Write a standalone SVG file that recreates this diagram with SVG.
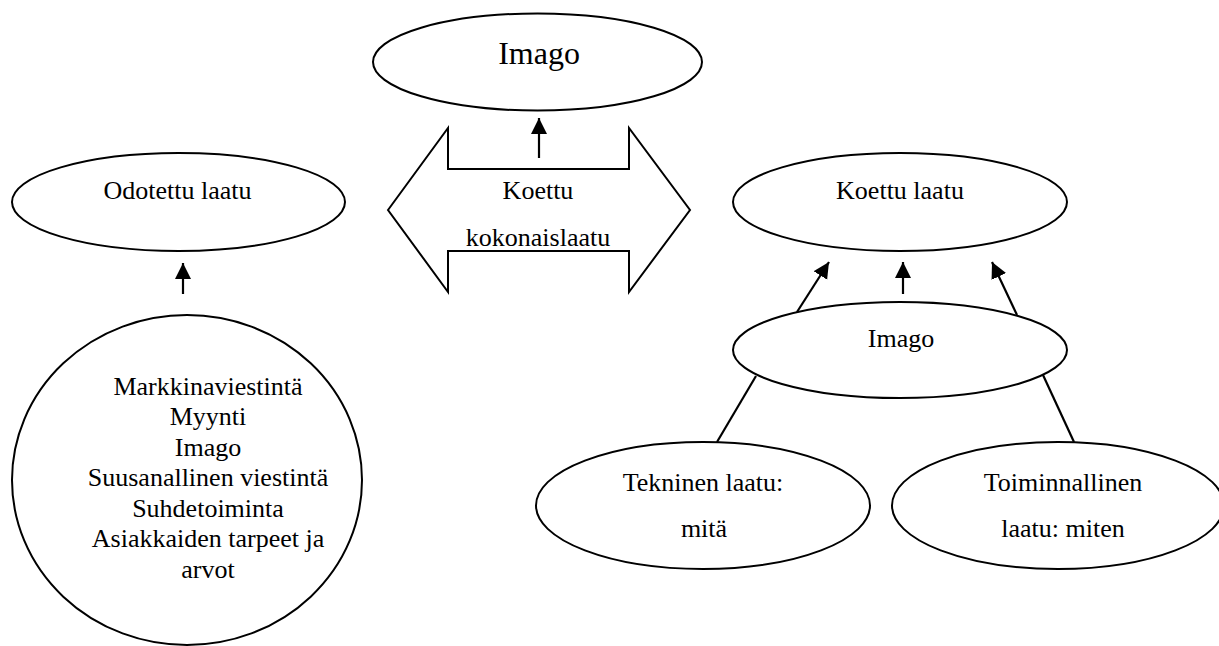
<svg xmlns="http://www.w3.org/2000/svg" width="1219" height="646" viewBox="0 0 1219 646">
<style>
.shape{fill:#fff;stroke:#000;stroke-width:2}
.t{font-family:"Liberation Serif","Times New Roman",serif;font-size:26px;fill:#000;text-anchor:middle}
.big{font-size:32px}
.con{stroke:#000;stroke-width:2.2;fill:none}
</style>
<defs>
<marker id="ah" markerUnits="userSpaceOnUse" markerWidth="17" markerHeight="17" refX="16" refY="8" orient="auto">
<path d="M0,0 L16,8 L0,16 z" fill="#000"/>
</marker>
</defs>
<rect width="1219" height="646" fill="#fff"/>
<g id="imago-top">
<ellipse class="shape" cx="537.5" cy="62" rx="164.5" ry="48.5"/>
<text class="t big" x="539" y="64">Imago</text>
</g>
<g id="kokonaislaatu">
<polygon class="shape" points="388,210 448,128 448,169 629,169 629,128 690,210 629,292 629,251 448,251 448,292"/>
<text class="t" x="538" y="199">Koettu</text>
<text class="t" x="538" y="246">kokonaislaatu</text>
</g>
<g id="odotettu">
<ellipse class="shape" cx="178.5" cy="202" rx="166.5" ry="49"/>
<text class="t" x="177.5" y="199">Odotettu laatu</text>
</g>
<g id="tekijat">
<ellipse class="shape" cx="187" cy="480" rx="175" ry="165"/>
<text class="t" x="208" y="394.5">Markkinaviestintä</text>
<text class="t" x="208" y="425">Myynti</text>
<text class="t" x="208" y="455.5">Imago</text>
<text class="t" x="208" y="486">Suusanallinen viestintä</text>
<text class="t" x="208" y="516.5">Suhdetoiminta</text>
<text class="t" x="208" y="547">Asiakkaiden tarpeet ja</text>
<text class="t" x="208" y="577.5">arvot</text>
</g>
<g id="koettu">
<ellipse class="shape" cx="900" cy="202" rx="167" ry="49"/>
<text class="t" x="900" y="199">Koettu laatu</text>
</g>
<g id="imago-right">
<ellipse class="shape" cx="900" cy="350" rx="167" ry="48"/>
<text class="t" x="901" y="347">Imago</text>
</g>
<g id="tekninen">
<ellipse class="shape" cx="703" cy="505.5" rx="167" ry="63.5"/>
<text class="t" x="703" y="491">Tekninen laatu:</text>
<text class="t" x="704" y="537">mitä</text>
</g>
<g id="toiminnallinen">
<ellipse class="shape" cx="1058" cy="505.5" rx="166" ry="63.5"/>
<text class="t" x="1063" y="491">Toiminnallinen</text>
<text class="t" x="1063" y="537">laatu: miten</text>
</g>
<g id="connectors">
<line class="con" x1="539" y1="158" x2="539" y2="118" marker-end="url(#ah)"/>
<line class="con" x1="183" y1="294" x2="183" y2="263" marker-end="url(#ah)"/>
<line class="con" x1="903" y1="294" x2="903" y2="262" marker-end="url(#ah)"/>
<line class="con" x1="797" y1="312" x2="829" y2="262" marker-end="url(#ah)"/>
<line class="con" x1="1017" y1="315" x2="992" y2="262" marker-end="url(#ah)"/>
<line class="con" x1="756" y1="376" x2="717" y2="442"/>
<line class="con" x1="1043" y1="375" x2="1074" y2="442"/>
</g>
</svg>
